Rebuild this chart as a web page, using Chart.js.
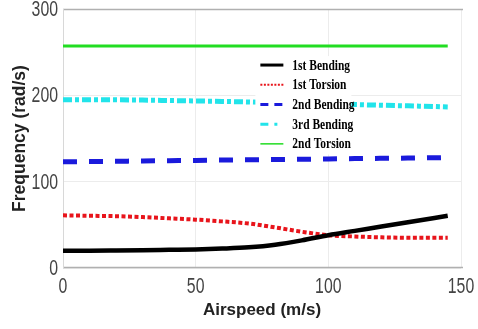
<!DOCTYPE html>
<html><head><meta charset="utf-8">
<script src="https://cdn.jsdelivr.net/npm/chart.js@4.4.1/dist/chart.umd.min.js"></script>
<style>html,body{margin:0;padding:0;background:#fff;}#c{display:block;}</style>
</head><body>
<canvas id="c" width="478" height="329"></canvas>
<script>
const airspeed = [0,10,20,30,40,50,60,70,80,90,100,110,120,130,140,145];
const bending1 = [20,20,20.2,20.5,21,21.5,22.5,24,27,32,38,43,48,53,58,60.5];
const torsion1 = [61,60.5,60,59,57.5,56,54,51.5,47,42,38,36.5,35.5,35,35,35];
const bending2 = [123,123.3,123.6,124,124.3,124.6,125,125.3,125.6,126,126.3,126.7,127,127.3,127.7,128];
const bending3 = [195,195,194.8,194.5,194,193.5,193,192.3,191.5,190.8,190,189.3,188.5,187.8,187,186.5];
const torsion2 = [257,257,257,257,257,257,257,257,257,257,257,257,257,257,257,257];
const xTicks = [0,50,100,150];
const yTicks = [0,100,200,300];

const pts = arr => arr.map((v,i)=>({x:airspeed[i], y:v}));

const legendPlugin = {
  id:'innerLegend',
  afterDatasetsDraw(chart){
    const ctx = chart.ctx;
    const xs = chart.scales.x, ys = chart.scales.y;
    const left = xs.getPixelForValue(72.5), top = ys.getPixelForValue(245.5);
    const w = 96, rowH = 19.7;
    ctx.save();
    ctx.fillStyle = '#fff';
    ctx.fillRect(left, top, w, rowH*5);
    chart.data.datasets.forEach((ds,i)=>{
      const y = top + 9 + i*rowH;
      ctx.beginPath();
      ctx.strokeStyle = ds.borderColor;
      ctx.lineWidth = ds.legendWidth;
      ctx.setLineDash(ds.legendDash || []);
      ctx.moveTo(left+5, y); ctx.lineTo(left+28, y);
      ctx.stroke();
      ctx.setLineDash([]);
      ctx.fillStyle = '#000';
      ctx.font = 'bold 14px "Liberation Serif", "DejaVu Serif", serif';
      ctx.textBaseline = 'middle';
      ctx.save();
      ctx.translate(left+37, y+1);
      ctx.scale(0.82, 1);
      ctx.fillText(ds.label, 0, 0);
      ctx.restore();
    });
    ctx.restore();
  }
};

const framePlugin = {
  id:'frame',
  beforeDatasetsDraw(chart){
    const {ctx, chartArea:a} = chart;
    ctx.save();
    ctx.strokeStyle = '#b0b0b0';
    ctx.lineWidth = 1.5;
    ctx.beginPath();
    ctx.moveTo(a.left, a.top+0.5); ctx.lineTo(a.right+2, a.top+0.5);
    ctx.moveTo(a.left, a.bottom-0.5); ctx.lineTo(a.right+2, a.bottom-0.5);
    ctx.stroke();
    ctx.strokeStyle = '#d8d8d8';
    ctx.lineWidth = 1;
    ctx.beginPath();
    ctx.moveTo(a.left+0.5, a.top); ctx.lineTo(a.left+0.5, a.bottom);
    ctx.stroke();
    ctx.restore();
  }
};

// condensed tick labels, positioned by the scales
const tickLabelPlugin = {
  id:'tickLabels',
  afterDraw(chart){
    const ctx = chart.ctx, xs = chart.scales.x, ys = chart.scales.y;
    const sx = 0.72;
    ctx.save();
    ctx.fillStyle = '#444';
    ctx.font = '22px "Liberation Sans", Arial, sans-serif';
    ctx.textBaseline = 'middle';
    xTicks.forEach(v=>{
      const px = xs.getPixelForValue(v), py = xs.top + 19;
      ctx.save(); ctx.translate(px, py); ctx.scale(sx,1);
      ctx.textAlign = 'center'; ctx.fillText(String(v), 0, 0);
      ctx.restore();
    });
    yTicks.forEach(v=>{
      const px = ys.right - 5, py = ys.getPixelForValue(v) + 1;
      ctx.save(); ctx.translate(px, py); ctx.scale(sx,1);
      ctx.textAlign = 'right'; ctx.fillText(String(v), 0, 0);
      ctx.restore();
    });
    ctx.restore();
  }
};

const common = {fill:false, pointRadius:0, cubicInterpolationMode:'monotone', borderCapStyle:'butt'};

new Chart(document.getElementById('c'), {
  type:'line',
  data:{datasets:[
    {...common, label:'1st Bending', data:pts(bending1), borderColor:'#000000', borderWidth:4.5, legendWidth:3},
    {...common, label:'1st Torsion', data:pts(torsion1), borderColor:'#e8141b', borderWidth:4, borderDash:[4,2.5], legendWidth:2, legendDash:[2,1.5]},
    {...common, label:'2nd Bending', data:pts(bending2), borderColor:'#1a1adc', borderWidth:5, borderDash:[14,12], legendWidth:3, legendDash:[8,6]},
    {...common, label:'3rd Bending', data:pts(bending3), borderColor:'#22e4ea', borderWidth:5, borderDash:[9,3,4,3], legendWidth:3, legendDash:[8,6,3,6]},
    {...common, label:'2nd Torsion', data:pts(torsion2), borderColor:'#22dd22', borderWidth:3, legendWidth:1.5}
  ]},
  options:{
    responsive:false, animation:false,
    layout:{padding:{left:0,right:17,top:9,bottom:0}},
    plugins:{legend:{display:false}, tooltip:{enabled:false}},
    scales:{
      x:{type:'linear', min:0, max:150,
        afterBuildTicks: s => { s.ticks = xTicks.map(v=>({value:v})); },
        afterFit: s => { s.height = 61; },
        grid:{color:'#ececec', drawTicks:false}, border:{display:false},
        ticks:{display:false},
        title:{display:true, text:'Airspeed (m/s)', color:'#222', padding:{top:0,bottom:8}, font:{family:'"Liberation Sans", Arial, sans-serif', size:17, weight:'bold'}}
      },
      y:{min:0, max:300,
        afterBuildTicks: s => { s.ticks = yTicks.map(v=>({value:v})); },
        afterFit: s => { s.width = 63; },
        grid:{color:'#ececec', drawTicks:false}, border:{display:false},
        ticks:{display:false},
        title:{display:true, text:'Frequency (rad/s)', color:'#222', padding:{top:10,bottom:0}, font:{family:'"Liberation Sans", Arial, sans-serif', size:17.5, weight:'bold'}}
      }
    }
  },
  plugins:[framePlugin, legendPlugin, tickLabelPlugin]
});
</script>
</body></html>
